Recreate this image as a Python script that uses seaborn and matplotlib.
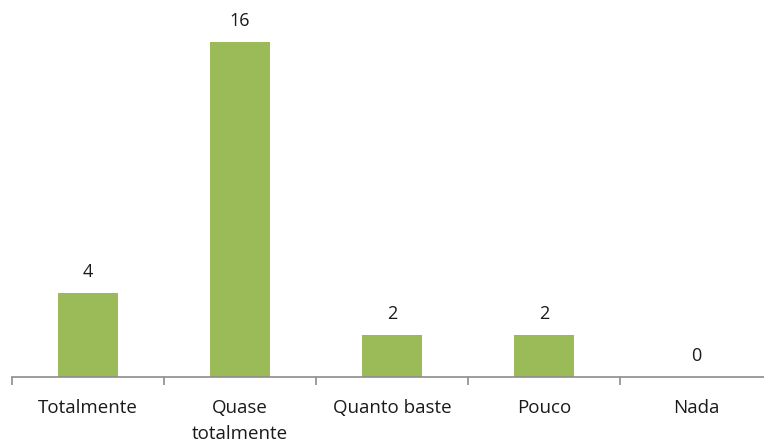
import matplotlib
matplotlib.use("Agg")
import matplotlib.pyplot as plt
import seaborn as sns
import pandas as pd

categorias = ["Totalmente", "Quase\ntotalmente", "Quanto baste", "Pouco", "Nada"]
valores = [4, 16, 2, 2, 0]

df = pd.DataFrame({"categoria": categorias, "valor": valores})

sns.set_theme(style="white")
plt.rcParams["font.family"] = ["Open Sans", "DejaVu Sans"]

fig = plt.figure(figsize=(7.64, 4.43), dpi=100)
ax = fig.add_axes([12 / 764, 66 / 443, 760 / 764, 377 / 443])

sns.barplot(data=df, x="categoria", y="valor", color="#9BBB59", width=0.4,
            saturation=1, linewidth=0, ax=ax)

for i, v in enumerate(valores):
    ax.text(i, v + 1.0, str(v), ha="center", va="center", fontsize=13,
            color="#1a1a1a")

ax.set_xlim(-0.5, 4.5)
ax.set_ylim(0, 18)
ax.set_xlabel("")
ax.set_ylabel("")
ax.set_yticks([])
for s in ["top", "right", "left"]:
    ax.spines[s].set_visible(False)
ax.spines["bottom"].set_color("#8c8c8c")
ax.spines["bottom"].set_linewidth(1.2)

ax.set_xticks([-0.5, 0.5, 1.5, 2.5, 3.5], minor=True)
ax.tick_params(axis="x", which="minor", length=6, width=1.2, color="#8c8c8c",
               direction="out", bottom=True)
ax.tick_params(axis="x", which="major", length=0, pad=16, labelsize=13.5,
               labelcolor="#1a1a1a")
for lbl in ax.get_xticklabels():
    lbl.set_verticalalignment("top")
    lbl.set_linespacing(1.55)

fig.savefig("out.png", dpi=100)
